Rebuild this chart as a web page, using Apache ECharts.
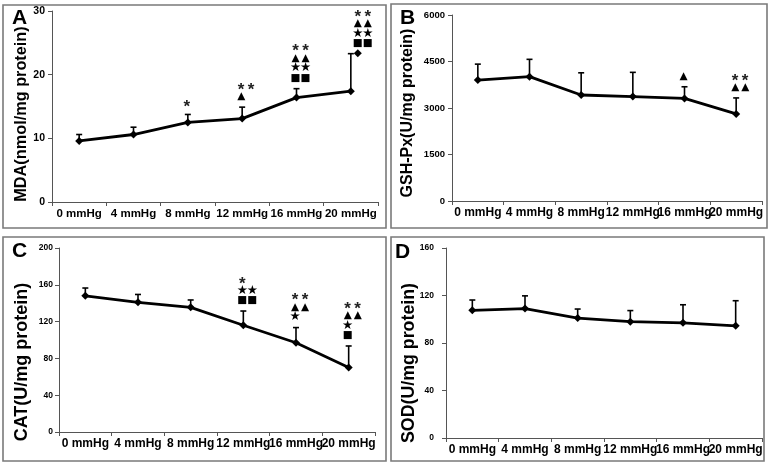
<!DOCTYPE html>
<html>
<head>
<meta charset="utf-8">
<script src="https://cdn.jsdelivr.net/npm/echarts@6/dist/echarts.min.js"></script>
<style>
html,body{margin:0;padding:0;background:#fff;}
#chart{width:771px;height:468px;}
</style>
</head>
<body>
<div id="chart"></div>
<script>
// ---- data ----
const categories = ['0 mmHg', '4 mmHg', '8 mmHg', '12 mmHg', '16 mmHg', '20 mmHg'];

const mdaMean = [9.6, 10.6, 12.5, 13.1, 16.4, 17.4];
const mdaSD   = [1.0, 1.15, 1.25, 1.8, 1.4, 5.9];

const gshMean = [3900, 4010, 3420, 3370, 3310, 2810];
const gshSD   = [515, 560, 715, 780, 375, 515];

const catMean = [148, 141, 135.5, 116, 97, 70];
const catSD   = [8.5, 8.5, 8, 15.5, 16.5, 23.5];

const sodMean = [107.5, 109, 101, 98, 97, 94.5];
const sodSD   = [8.7, 10.7, 7.6, 9.3, 15.2, 21.1];

// significance marks per category, rows listed top to bottom
const annA = [[], [], ['*'], ['**', '▲'], ['**', '▲▲', '★★', '■■'], ['**', '▲▲', '★★', '■■', '◆']];
const annB = [[], [], [], [], ['▲'], ['**', '▲▲']];
const annC = [[], [], [], ['*', '★★', '■■'], ['**', '▲▲', '★'], ['**', '▲▲', '★', '■']];
const annD = [[], [], [], [], [], []];

const yTicksA = [0, 30, 10];
const yTicksB = [0, 6000, 1500];
const yTicksC = [0, 200, 40];
const yTicksD = [0, 160, 40];

const yNames = ['MDA(nmol/mg protein)', 'GSH-Px(U/mg protein)', 'CAT(U/mg protein)', 'SOD(U/mg protein)'];
const panelLetters = ['A', 'B', 'C', 'D'];

// ---- layout ----
const FONT = '"Liberation Sans", Arial, sans-serif';
const panels = [
  {mean: mdaMean, sd: mdaSD, ann: annA, ticks: yTicksA, grid: {left: 52, top: 11, width: 326, height: 191}, yFont: 10.5, yMargin: 7, nameSize: 16.3, namePos: [22, 114], xFont: 11.5},
  {mean: gshMean, sd: gshSD, ann: annB, ticks: yTicksB, grid: {left: 452, top: 15, width: 310, height: 186}, yFont: 9.5, yMargin: 7, nameSize: 16, namePos: [408, 113], xFont: 12},
  {mean: catMean, sd: catSD, ann: annC, ticks: yTicksC, grid: {left: 59, top: 248, width: 316, height: 184}, yFont: 8.5, yMargin: 6, nameSize: 18, namePos: [22.5, 362], xFont: 12},
  {mean: sodMean, sd: sodSD, ann: annD, ticks: yTicksD, grid: {left: 446, top: 248, width: 316, height: 190}, yFont: 8.5, yMargin: 12, nameSize: 17.8, namePos: [409, 363], xFont: 12}
];
const boxes = [
  {x: 3, y: 5, w: 383, h: 223},
  {x: 391, y: 4, w: 376, h: 224},
  {x: 3, y: 237, w: 383, h: 224},
  {x: 391, y: 237, w: 373, h: 224}
];
const letterPos = [[12, 8], [400, 8], [12, 241], [395, 242]];

const axisColor = '#555';
const symbolFont = {'▲': '10.5px', '★': '12.5px', '■': '10.5px', '◆': '10.5px'};

const grids = [], xAxes = [], yAxes = [], series = [];
panels.forEach((p, i) => {
  grids.push(Object.assign({containLabel: false}, p.grid));
  xAxes.push({
    type: 'category', gridIndex: i, data: categories, boundaryGap: true,
    axisLine: {lineStyle: {color: axisColor, width: 1}},
    axisTick: {show: true, length: 4, lineStyle: {color: axisColor}},
    axisLabel: {interval: 0, color: '#000', fontWeight: 'bold', fontSize: p.xFont, fontFamily: FONT, margin: 6},
    splitLine: {show: false}
  });
  yAxes.push({
    type: 'value', gridIndex: i, min: p.ticks[0], max: p.ticks[1], interval: p.ticks[2],
    axisLine: {show: true, lineStyle: {color: axisColor, width: 1}},
    axisTick: {show: true, length: 4, lineStyle: {color: axisColor}},
    axisLabel: {color: '#000', fontWeight: 'bold', fontSize: p.yFont, fontFamily: FONT, margin: p.yMargin,
      formatter: v => String(v)},
    splitLine: {show: false}
  });
  // error bars (upper only)
  series.push({
    type: 'custom', xAxisIndex: i, yAxisIndex: i, z: 2,
    data: p.mean.map((m, k) => [k, m, p.sd[k]]),
    renderItem: function (params, api) {
      const x = api.value(0), m = api.value(1), s = api.value(2);
      const a = api.coord([x, m]);
      const t = api.coord([x, m + s]);
      return {type: 'group', children: [
        {type: 'line', shape: {x1: a[0], y1: a[1], x2: t[0], y2: t[1]}, style: {stroke: '#000', lineWidth: 1.6}},
        {type: 'line', shape: {x1: t[0] - 3, y1: t[1], x2: t[0] + 3, y2: t[1]}, style: {stroke: '#000', lineWidth: 1.6}}
      ]};
    }
  });
  // mean line
  series.push({
    type: 'line', xAxisIndex: i, yAxisIndex: i, z: 3, data: p.mean,
    symbol: 'diamond', symbolSize: 8, showSymbol: true,
    lineStyle: {color: '#000', width: 2.8}, itemStyle: {color: '#000'},
    animation: false
  });
  // significance marks
  const ann = p.ann;
  series.push({
    type: 'custom', xAxisIndex: i, yAxisIndex: i, z: 4,
    data: p.mean.map((m, k) => [k, m + p.sd[k]]),
    renderItem: function (params, api) {
      const k = params.dataIndex;
      const rows = ann[k] || [];
      if (!rows.length) return null;
      const t = api.coord([api.value(0), api.value(1)]);
      let base = t[1] - 10.5, shift = 0;
      if (rows[rows.length - 1] === '◆') { base = t[1]; shift = 8; }
      const children = [];
      for (let r = rows.length - 1, lvl = 0; r >= 0; r--, lvl++) {
        const row = rows[r];
        const y = base - lvl * 10;
        for (let c = 0; c < row.length; c++) {
          const ch = row[c];
          const isStar = ch === '*';
          children.push({
            type: 'text', x: t[0] - 1 + shift + c * 10, y: y + (isStar ? 3.5 : 0),
            style: {
              text: ch, align: 'center', verticalAlign: 'middle',
              font: isStar ? 'bold 17px ' + FONT : (symbolFont[ch] || '10.5px') + ' "DejaVu Sans"',
              fill: isStar ? '#222' : '#000'
            }
          });
        }
      }
      return {type: 'group', children: children};
    }
  });
});

const graphics = [];
boxes.forEach(b => graphics.push({
  type: 'rect', shape: {x: b.x, y: b.y, width: b.w, height: b.h},
  style: {fill: 'none', stroke: '#7a7a7a', lineWidth: 1.6}, z: -1
}));
panelLetters.forEach((L, i) => graphics.push({
  type: 'text', x: letterPos[i][0], y: letterPos[i][1],
  style: {text: L, font: 'bold 21px ' + FONT, fill: '#000', align: 'left', verticalAlign: 'top'}
}));
panels.forEach((p, i) => graphics.push({
  type: 'text', x: p.namePos[0], y: p.namePos[1], rotation: Math.PI / 2,
  style: {text: yNames[i], font: 'bold ' + p.nameSize + 'px ' + FONT, fill: '#000', align: 'center', verticalAlign: 'middle'}
}));

const chart = echarts.init(document.getElementById('chart'), null, {renderer: 'canvas'});
chart.setOption({
  backgroundColor: '#fff',
  animation: false,
  grid: grids, xAxis: xAxes, yAxis: yAxes, series: series,
  graphic: graphics
});
</script>
</body>
</html>
